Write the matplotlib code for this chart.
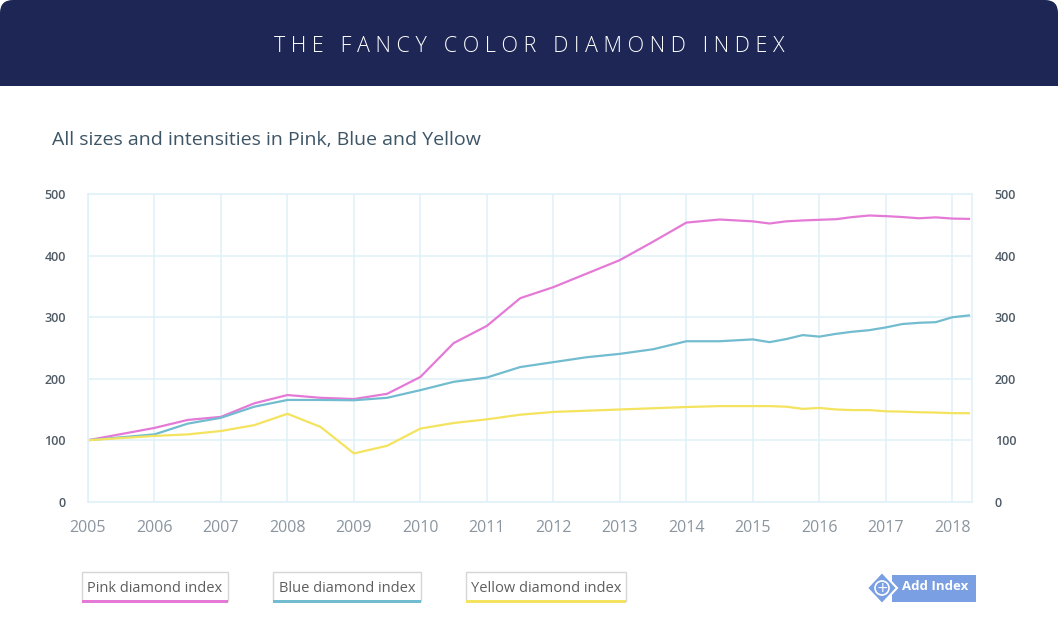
import matplotlib.pyplot as plt
from matplotlib.patches import FancyBboxPatch, Rectangle, Polygon, Circle

# data
dates = [2005, 2006, 2006.5, 2007, 2007.5, 2008, 2008.5, 2009, 2009.5, 2010,
         2010.5, 2011, 2011.5, 2012, 2012.5, 2013, 2013.5, 2014, 2014.5, 2015,
         2015.25, 2015.5, 2015.75, 2016, 2016.25, 2016.5, 2016.75, 2017,
         2017.25, 2017.5, 2017.75, 2018, 2018.25]
pink = [100, 120, 133, 138, 160, 173.5, 169, 167, 175.5, 203,
        258, 286, 331, 349, 371, 393, 423, 454, 459, 456,
        452.5, 456, 457.5, 458.5, 459.5, 463, 465.5, 464.5,
        463, 461, 462.5, 460.5, 460]
blue = [100, 109.5, 127, 136.5, 154.5, 165.5, 165.5, 165, 169, 181.5,
        195, 202, 219, 227, 235, 240.5, 248, 261, 261, 264,
        259.5, 264.5, 271, 268.5, 273, 276.5, 279, 283.5,
        289, 291, 292, 300, 303]
yellow = [100, 107, 109.5, 115, 124.5, 143, 121.5, 78.5, 91, 119,
          128, 134, 141.5, 146, 148, 150, 152, 154, 155.5, 155.5,
          155.5, 154.5, 151, 152.5, 150, 149, 149, 147,
          146.5, 145.5, 145, 144, 144]
years = list(range(2005, 2019))
yticks = [0, 100, 200, 300, 400, 500]
names = ['Pink diamond index', 'Blue diamond index', 'Yellow diamond index']
colors = ['#e57ad6', '#72bcd0', '#f4e35e']

W, H = 1058, 642
fig = plt.figure(figsize=(W / 100, H / 100), dpi=100)
fig.patch.set_facecolor('white')

# background layer in pixel coordinates
bg = fig.add_axes([0, 0, 1, 1])
bg.set_xlim(0, W)
bg.set_ylim(H, 0)
bg.axis('off')

navy = '#1d2654'
bg.add_patch(FancyBboxPatch((0, 0), W, 86, boxstyle='round,pad=0,rounding_size=13',
                            fc=navy, ec='none'))
bg.add_patch(Rectangle((0, 50), W, 36, fc=navy, ec='none'))

title = '   '.join(' '.join(w) for w in 'THE FANCY COLOR DIAMOND INDEX'.split())
bg.text(529, 46, title, color='white', fontsize=15.5, family='Open Sans',
        fontweight='light', ha='center', va='center')
bg.text(52, 140, 'All sizes and intensities in Pink, Blue and Yellow',
        color='#3e5566', fontsize=14, family='Open Sans', ha='left', va='center')

# legend boxes
boxes = [(82, 146), (273, 148), (466, 160)]
for (bx, bw), name, c in zip(boxes, names, colors):
    bg.add_patch(Rectangle((bx, 572), bw, 29, fc='white', ec='#d6d6d6', lw=1))
    bg.add_patch(Rectangle((bx, 600), bw, 2.5, fc=c, ec='none'))
    bg.text(bx + bw / 2, 588, name, color='#5e5e5e', fontsize=10.5,
            family='Open Sans', ha='center', va='center')

# add index button
btn = '#7a9fe2'
bg.add_patch(Rectangle((892, 575), 84, 27, fc=btn, ec='none'))
bg.add_patch(Polygon([(867, 588), (882, 572), (897, 588), (882, 604)],
                     closed=True, fc=btn, ec='white', lw=1.5))
bg.add_patch(Circle((882, 588), 7, fc='none', ec='white', lw=1.2))
bg.text(882, 587.5, '+', color='white', fontsize=10,
        ha='center', va='center')
bg.text(935, 587, 'Add Index', color='white', fontsize=9.5, fontweight='bold',
        family='Open Sans', ha='center', va='center')

# chart
ax = fig.add_axes([88 / W, 1 - 501.7 / H, (972.3 - 88) / W, (501.7 - 194.3) / H])
ax.set_facecolor('none')
for vals, c in zip([pink, blue, yellow], colors):
    ax.plot(dates, vals, color=c, lw=1.6, solid_joinstyle='round')

ax.set_xlim(2005, 2018.3)
ax.set_ylim(0, 500)
ax.set_xticks(years)
ax.set_yticks(yticks)
ax.grid(True, color='#e1f1f8', lw=1.2)
ax.set_axisbelow(True)
for s in ax.spines.values():
    s.set_color('#e1f1f8')
    s.set_linewidth(1.2)
ax.tick_params(axis='x', length=0, pad=13, labelsize=11.5, labelcolor='#8a959f')
ax.tick_params(axis='y', length=0, pad=16, labelsize=9, labelcolor='#4f5b66',
               labelleft=True, labelright=True)
for lab in ax.get_xticklabels():
    lab.set_family('Open Sans')
for lab in ax.get_yticklabels():
    lab.set_family('Open Sans')
    lab.set_fontweight('semibold')

fig.savefig('out.png', dpi=100, facecolor='white')
